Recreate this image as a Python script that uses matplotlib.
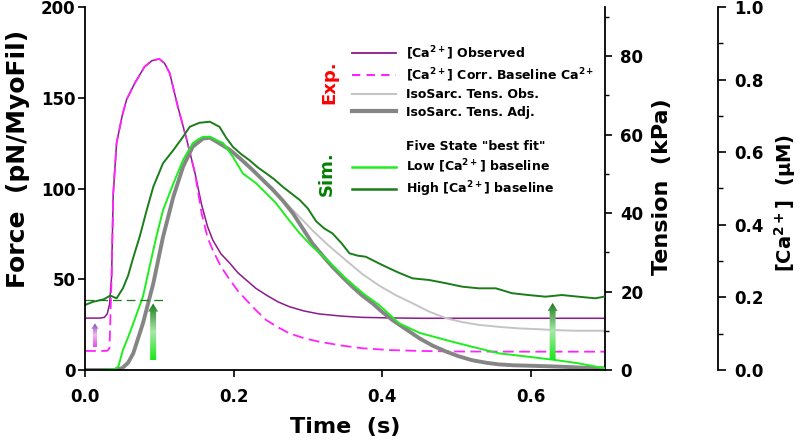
import numpy as np
import matplotlib
matplotlib.use("Agg")
import matplotlib.pyplot as plt
from matplotlib.lines import Line2D
from matplotlib.patches import FancyArrow
from matplotlib.colors import LinearSegmentedColormap
from matplotlib.ticker import MultipleLocator, FormatStrFormatter

# ---- data ----
# experimental [Ca2+] transients (uM)
ca_t = [0.0, 0.02, 0.026, 0.030, 0.033, 0.0358, 0.038, 0.0425, 0.05, 0.056, 0.067, 0.08, 0.09,
        0.10, 0.107, 0.114, 0.125, 0.137, 0.148, 0.157, 0.165, 0.172, 0.183, 0.195, 0.206,
        0.217, 0.23, 0.244, 0.26, 0.275, 0.295, 0.315, 0.345, 0.373, 0.41, 0.45, 0.5, 0.6, 0.7]
ca_obs = [0.143, 0.143, 0.145, 0.155, 0.18, 0.257, 0.485, 0.625, 0.70, 0.745, 0.79, 0.835, 0.852,
          0.857, 0.845, 0.818, 0.725, 0.634, 0.543, 0.455, 0.395, 0.358, 0.32, 0.294, 0.2675,
          0.248, 0.225, 0.2065, 0.1875, 0.1745, 0.1625, 0.1545, 0.1485, 0.145, 0.1435, 0.1425,
          0.1425, 0.1425, 0.1425]
ca_corr = [0.0525, 0.0525, 0.0525, 0.053, 0.06, 0.257, 0.485, 0.625, 0.70, 0.745, 0.79, 0.835, 0.852,
           0.857, 0.845, 0.818, 0.725, 0.634, 0.5425, 0.4315, 0.365, 0.33, 0.285, 0.248, 0.2175,
           0.193, 0.165, 0.1375, 0.1175, 0.101, 0.0875, 0.078, 0.0675, 0.06, 0.055, 0.0525,
           0.051, 0.0505, 0.0505]

# isometric sarcomere tension (kPa)
tens_t = [0.0, 0.04, 0.05, 0.058, 0.065, 0.078, 0.092, 0.105, 0.119, 0.132, 0.145, 0.159, 0.168,
          0.177, 0.195, 0.21, 0.226, 0.24, 0.253, 0.267, 0.28, 0.293, 0.306, 0.32, 0.333, 0.347,
          0.36, 0.373, 0.387, 0.4, 0.414, 0.432, 0.45, 0.468, 0.486, 0.503, 0.521, 0.54, 0.557,
          0.577, 0.597, 0.62, 0.642, 0.67, 0.7]
tens_adj = [0.0, 0.0, 0.46, 1.85, 4.26, 11.9, 22.1, 33.9, 44.2, 51.8, 56.9, 59.0, 59.2,
            58.2, 56.1, 53.7, 50.9, 48.3, 45.9, 43.0, 39.9, 36.1, 32.3, 29.1, 26.3, 23.6,
            21.2, 19.0, 17.0, 14.8, 12.7, 10.4, 8.1, 6.2, 4.7, 3.5, 2.5, 1.85, 1.43,
            1.2, 1.1, 0.97, 0.83, 0.6, 0.42]
obs_t = [0.0, 0.04, 0.05, 0.058, 0.065, 0.078, 0.092, 0.105, 0.119, 0.132, 0.145, 0.159, 0.168,
         0.177, 0.195, 0.21, 0.226, 0.24, 0.253, 0.267, 0.28, 0.293, 0.306, 0.328, 0.351, 0.373,
         0.396, 0.418, 0.441, 0.463, 0.486, 0.508, 0.53, 0.557, 0.584, 0.61, 0.629, 0.66, 0.7]
tens_obs = [0.0, 0.0, 0.46, 1.85, 4.26, 11.9, 22.1, 33.9, 44.2, 51.8, 56.9, 59.0, 59.2,
            58.2, 56.1, 53.7, 50.9, 48.3, 45.9, 43.2, 40.7, 38.2, 35.6, 31.7, 28.0, 24.5,
            21.5, 19.1, 17.0, 14.9, 13.2, 12.2, 11.5, 11.0, 10.6, 10.4, 10.2, 10.0, 10.0]

# five state model, force (pN/MyoFil)
low_t = [0.0, 0.02, 0.04, 0.045, 0.051, 0.058, 0.065, 0.078, 0.087, 0.096, 0.105, 0.119, 0.132,
         0.145, 0.152, 0.159, 0.168, 0.177, 0.186, 0.199, 0.2125, 0.23, 0.244, 0.257, 0.27,
         0.289, 0.306, 0.329, 0.351, 0.374, 0.396, 0.423, 0.45, 0.486, 0.521, 0.557, 0.597,
         0.633, 0.664, 0.7]
low_f = [0.0, 0.0, 0.5, 2.0, 11.0, 18.0, 25.7, 40.4, 57.0, 73.4, 88.0, 102.8, 115.7,
         124.9, 127.0, 128.5, 128.5, 126.7, 125.0, 117.5, 108.3, 103.0, 97.3, 92.0, 85.0,
         75.3, 68.0, 59.5, 50.5, 42.3, 35.8, 25.7, 20.5, 16.5, 12.8, 9.2, 7.3,
         5.5, 3.7, 0.9]
high_t = [0.0, 0.011, 0.025, 0.034, 0.0425, 0.051, 0.058, 0.065, 0.074, 0.083, 0.092, 0.105, 0.119,
          0.132, 0.141, 0.154, 0.168, 0.181, 0.19, 0.199, 0.21, 0.221, 0.233, 0.244, 0.255,
          0.266, 0.277, 0.289, 0.3, 0.311, 0.322, 0.333, 0.345, 0.356, 0.367, 0.378, 0.392,
          0.405, 0.423, 0.441, 0.463, 0.486, 0.508, 0.53, 0.553, 0.575, 0.597, 0.62, 0.642,
          0.664, 0.687, 0.7]
high_f = [35.8, 37.6, 38.9, 41.0, 39.5, 45.0, 52.0, 62.0, 74.0, 88.0, 101.0, 113.9, 121.2,
          128.5, 134.0, 136.2, 136.8, 134.0, 128.0, 123.0, 119.0, 115.7, 111.5, 108.3, 105.0,
          101.0, 97.5, 93.7, 89.0, 82.0, 78.0, 75.3, 70.0, 64.3, 63.0, 62.4, 59.5,
          56.9, 53.5, 50.5, 49.6, 47.8, 45.9, 45.0, 45.0, 42.3, 41.3, 40.4, 41.3,
          40.4, 39.5, 40.5]
base_t = [0.0, 0.11]
base_f = [38.7, 38.7]

# arrows: time, bottom, top (force units)
arrow_t = [0.0134, 0.0917, 0.6295]
arrow_lo = [12.5, 5.5, 5.5]
arrow_hi = [25.7, 36.7, 37.0]

PURPLE = "#8b1a8b"
MAGENTA = "#ff22ff"
LGRAY = "#c4c4c4"
DGRAY = "#858585"
LGREEN = "#1eee1e"
DGREEN = "#1a7d1a"

plt.rcParams["font.family"] = ["DejaVu Sans"]
plt.rcParams["font.weight"] = "bold"
plt.rcParams["mathtext.default"] = "bf"


def grad_arrow(axis, x, y0, y1, colors, shaft_w, head_w, head_l):
    arr = FancyArrow(x, y0, 0, y1 - y0, width=shaft_w, head_width=head_w,
                     head_length=head_l, length_includes_head=True,
                     facecolor="none", edgecolor="none")
    axis.add_patch(arr)
    cmap = LinearSegmentedColormap.from_list("g", colors)
    grad = np.linspace(0, 1, 100).reshape(-1, 1)
    im = axis.imshow(grad, cmap=cmap, extent=[x - head_w, x + head_w, y0, y1],
                     origin="lower", aspect="auto", zorder=6, interpolation="bilinear")
    im.set_clip_path(arr)


fig = plt.figure(figsize=(8, 4.46), dpi=100)
ax = fig.add_axes([85 / 800, 1 - 370 / 446, 520 / 800, 363 / 446])
ax_c = ax.twinx()
ax_t = ax.twinx()
ax.set_zorder(3)
ax.patch.set_visible(False)
ax_t.set_zorder(2)
ax_c.set_zorder(1)

# calcium
ax_c.plot(ca_t, ca_obs, color=PURPLE, lw=1.1)
ax_c.plot(ca_t, ca_corr, color=MAGENTA, lw=1.3, dashes=(6, 3))
# tension
ax_t.plot(obs_t, tens_obs, color=LGRAY, lw=1.4)
ax_t.plot(tens_t, tens_adj, color=DGRAY, lw=2.8)
# simulations
ax.plot(low_t, low_f, color=LGREEN, lw=1.4)
ax.plot(high_t, high_f, color=DGREEN, lw=1.4)
ax.plot(base_t, base_f, color=DGREEN, lw=0.9, dashes=(7, 4))

grad_arrow(ax, arrow_t[0], arrow_lo[0], arrow_hi[0],
           ["#e050e0", "#f2b8f2", "#7d4fb5"], 0.0055, 0.0095, 3.0)
for i in (1, 2):
    grad_arrow(ax, arrow_t[i], arrow_lo[i], arrow_hi[i],
               ["#18e818", "#a8e8a8", "#1e7a1e"], 0.008, 0.0135, 4.5)

ax.set_xlim(0, 0.7)
ax.set_ylim(0, 200)
ax_t.set_ylim(0, 92.5)
ax_c.set_ylim(0, 1.0)

for s in ("top", "right"):
    ax.spines[s].set_visible(False)
for s in ("top", "left", "bottom"):
    ax_t.spines[s].set_visible(False)
    ax_c.spines[s].set_visible(False)
ax_c.spines["right"].set_position(("axes", 1.217))
for a in (ax, ax_t, ax_c):
    for s in a.spines.values():
        s.set_linewidth(1.3)

ax.xaxis.set_major_locator(MultipleLocator(0.2))
ax.xaxis.set_major_formatter(FormatStrFormatter("%.1f"))
ax.yaxis.set_major_locator(MultipleLocator(50))
ax_t.yaxis.set_major_locator(MultipleLocator(20))
ax_t.yaxis.set_minor_locator(MultipleLocator(10))
ax_c.yaxis.set_major_locator(MultipleLocator(0.2))
ax_c.yaxis.set_minor_locator(MultipleLocator(0.1))
ax_c.yaxis.set_major_formatter(FormatStrFormatter("%.1f"))

ax.tick_params(axis="x", direction="out", length=5, width=1.2, labelsize=12, pad=8)
ax.tick_params(axis="y", direction="out", length=5, width=1.2, labelsize=12, pad=2)
ax_t.tick_params(which="major", direction="out", length=5, width=1.2, labelsize=12, pad=6)
ax_t.tick_params(which="minor", direction="out", length=3, width=1.0)
ax_c.tick_params(which="major", direction="out", length=6, width=1.2, labelsize=12, pad=6)
ax_c.tick_params(which="minor", direction="out", length=3.5, width=1.0)

ax.set_xlabel("Time  (s)", fontsize=16, fontweight="bold")
ax.xaxis.set_label_coords(0.5, -0.13)
ax.set_ylabel("Force  (pN/MyoFil)", fontsize=18, fontweight="bold")
ax.yaxis.set_label_coords(-0.106, 0.581)
ax_t.set_ylabel("Tension  (kPa)", fontsize=16, fontweight="bold")
ax_t.yaxis.set_label_coords(1.090, 0.504)
ax_c.set_ylabel("[Ca$^{2+}$]  (\u03bcM)", fontsize=14, fontweight="bold")
ax_c.yaxis.set_label_coords(1.322, 0.46)

fig.text(329 / 800, 1 - 82 / 446, "Exp.", color="red", rotation=90, fontsize=13,
         fontweight="bold", ha="center", va="center")
fig.text(327 / 800, 1 - 174 / 446, "Sim.", color="green", rotation=90, fontsize=13,
         fontweight="bold", ha="center", va="center")

handles = [Line2D([], [], color=PURPLE, lw=1.3),
           Line2D([], [], color=MAGENTA, lw=1.5, dashes=(4, 3)),
           Line2D([], [], color=LGRAY, lw=1.5),
           Line2D([], [], color=DGRAY, lw=3),
           Line2D([], [], color="none"),
           Line2D([], [], color="none"),
           Line2D([], [], color=LGREEN, lw=1.8),
           Line2D([], [], color=DGREEN, lw=1.8)]
labels = ["[Ca$^{2+}$] Observed", "[Ca$^{2+}$] Corr. Baseline Ca$^{2+}$",
          "IsoSarc. Tens. Obs.", "IsoSarc. Tens. Adj.", " ", 'Five State "best fit"',
          "Low [Ca$^{2+}$] baseline", "High [Ca$^{2+}$] baseline"]
leg = ax.legend(handles, labels, loc="upper left", bbox_to_anchor=(352 / 800, 1 - 44 / 446),
                bbox_transform=fig.transFigure, frameon=False, fontsize=9,
                handlelength=3.5, handletextpad=0.8, labelspacing=0.35,
                borderpad=0, borderaxespad=0)
for txt in leg.get_texts():
    txt.set_fontweight("bold")

fig.savefig("out.png", dpi=100)
